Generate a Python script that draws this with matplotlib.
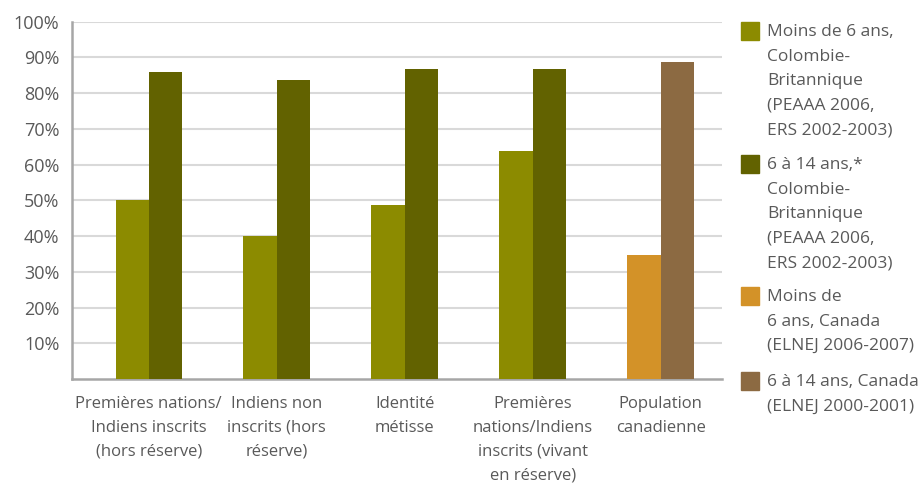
import numpy as np
import matplotlib
matplotlib.use('Agg')
import matplotlib.pyplot as plt
from matplotlib.patches import Rectangle

# --- donnees ---
categories = ['Premières nations/\nIndiens inscrits\n(hors réserve)',
              'Indiens non\ninscrits (hors\nréserve)',
              'Identité\nmétisse',
              'Premières\nnations/Indiens\ninscrits (vivant\nen réserve)',
              'Population\ncanadienne']
moins_6 = [50.2, 40.1, 48.7, 63.7, 34.7]
de_6_14 = [85.9, 83.6, 86.9, 86.9, 88.6]
yticks = [10, 20, 30, 40, 50, 60, 70, 80, 90, 100]

legend_labels = ['Moins de 6 ans,\nColombie-\nBritannique\n(PEAAA 2006,\nERS 2002-2003)',
                 '6 à 14 ans,*\nColombie-\nBritannique\n(PEAAA 2006,\nERS 2002-2003)',
                 'Moins de\n6 ans, Canada\n(ELNEJ 2006-2007)',
                 '6 à 14 ans, Canada\n(ELNEJ 2000-2001)']

LIGHT = '#8c8b00'
DARK = '#626200'
ORANGE = '#d39228'
BROWN = '#8c6a42'
TXT = '#595959'

plt.rcParams['font.family'] = ['Open Sans', 'DejaVu Sans']

fig = plt.figure(figsize=(9.19, 4.86), dpi=100)
ax = fig.add_axes([72 / 919, 1 - 379 / 486, 650 / 919, (379 - 21.7) / 486])

x = np.arange(len(categories))
w = 0.26
col_a = [LIGHT] * 4 + [ORANGE]
col_b = [DARK] * 4 + [BROWN]
ax.bar(x - w / 2, moins_6, w, color=col_a, zorder=3)
ax.bar(x + w / 2, de_6_14, w, color=col_b, zorder=3)

ax.set_xlim(-0.6, 4.48)
ax.set_ylim(0, 100)
ax.set_yticks(yticks)
ax.set_yticklabels([f'{v}%' for v in yticks], fontsize=13, color=TXT)
ax.set_xticks(x)
ax.set_xticklabels(categories, fontsize=12, color=TXT, linespacing=1.66)
ax.tick_params(axis='x', length=0, pad=12)
ax.tick_params(axis='y', length=0, pad=9)
ax.grid(axis='y', color='#d9d9d9', linewidth=1.5, zorder=0)
for s in ['top', 'right']:
    ax.spines[s].set_visible(False)
for s in ['left', 'bottom']:
    ax.spines[s].set_color('#a6a6a6')
    ax.spines[s].set_linewidth(1.8)

# legende a la main (carres alignes sur la premiere ligne)
leg_colors = [LIGHT, DARK, ORANGE, BROWN]
leg_tops = [22, 155, 287, 372]
for c, lab, top in zip(leg_colors, legend_labels, leg_tops):
    fig.add_artist(Rectangle((741 / 919, 1 - (top + 18) / 486), 18 / 919, 18 / 486,
                             transform=fig.transFigure, color=c))
    fig.text(767 / 919, 1 - (top + 2) / 486, lab, fontsize=12.5, color=TXT,
             va='top', ha='left', linespacing=1.72)

fig.savefig('out.png', dpi=100)
